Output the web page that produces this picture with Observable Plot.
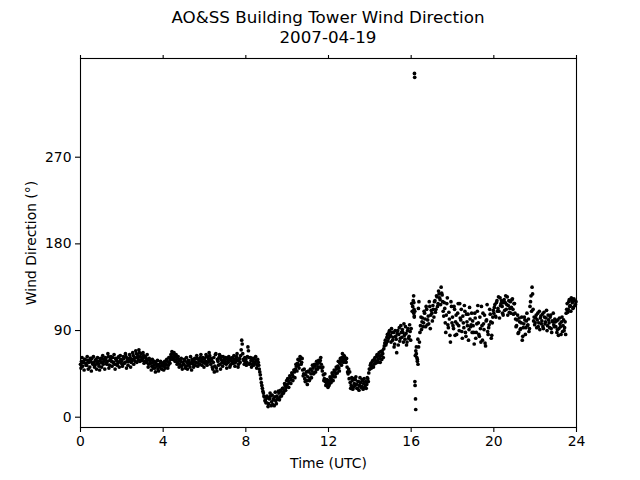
<!DOCTYPE html>
<html>
<head>
<meta charset="utf-8">
<script src="https://cdn.jsdelivr.net/npm/d3@7"></script>
<script src="https://cdn.jsdelivr.net/npm/@observablehq/plot@0.6"></script>
<style>
  html, body { margin: 0; padding: 0; background: #fff; }
  #wrap { position: relative; width: 640px; height: 480px; font-family: "DejaVu Sans", sans-serif; }
  #title { position: absolute; top: 7px; left: 0; width: 656px; text-align: center; font-size: 16.7px; line-height: 20px; color: #000; }
  #chart { position: absolute; top: 0; left: 0; }
</style>
</head>
<body>
<div id="wrap">
  <div id="chart"></div>
  <div id="title">AO&amp;SS Building Tower Wind Direction<br>2007-04-19</div>
</div>
<script>
// Hour of day at which each row of samples starts
const hourStarts = [0,1,2,3,4,5,6,7,8,9,10,11,12,13,14,15,16,17,18,19,20,21,22,23];
// Minute offsets of the samples within each hour (two interleaved sets)
const minuteOffsetsA = [0,3,6,9,12,15,18,21,24,27,30,33,36,39,42,45,48,51,54,57];
const minuteOffsetsB = [1.5,4.5,7.5,10.5,13.5,16.5,19.5,22.5,25.5,28.5,31.5,34.5,37.5,40.5,43.5,46.5,49.5,52.5,55.5,58.5];

// Wind direction (degrees), set A, one array per hour
const dir00 = [55,58,53,57,60,56,54,59,57,52,58,61,55,57,54,60,56,58,53,59];
const dir01 = [57,61,55,59,62,56,58,63,54,60,58,62,57,55,61,59,56,63,58,60];
const dir02 = [59,55,61,57,63,58,54,60,62,57,59,64,61,58,66,62,60,67,63,59];
const dir03 = [61,64,58,62,57,60,55,59,56,53,57,54,51,56,53,50,55,52,57,54];
const dir04 = [53,56,51,55,58,54,57,60,63,66,61,64,59,62,57,60,55,58,53,57];
const dir05 = [55,59,53,57,54,58,52,56,60,55,58,54,57,61,56,59,62,58,60,57];
const dir06 = [61,58,63,57,60,64,55,59,50,62,53,66,48,58,62,55,60,57,63,56];
const dir07 = [58,55,61,57,60,54,59,62,56,60,57,63,59,55,61,64,80,66,59,62];
const dir08 = [60,57,73,62,56,59,55,58,61,56,59,54,57,50,44,36,30,25,21,18];
const dir09 = [15,20,14,19,22,16,13,18,21,17,22,19,25,21,27,24,30,27,33,31];
const dir10 = [34,38,36,41,39,44,42,47,50,53,56,54,59,62,57,49,45,40,44,38];
const dir11 = [42,47,40,45,48,51,46,53,50,55,52,57,59,55,48,44,40,37,34,36];
const dir12 = [38,35,41,39,44,42,47,45,50,53,51,56,58,62,60,64,61,57,52,45];
const dir13 = [40,36,33,38,31,35,39,34,30,37,33,36,32,38,35,31,37,34,40,46];
const dir14 = [50,56,53,59,55,62,58,65,60,67,57,64,69,62,74,80,77,86,82,90];
const dir15 = [85,92,80,88,76,84,67,90,86,79,95,83,88,97,81,87,78,92,84,89];
const dir16 = [92,110,121,104,64,73,58,113,78,95,91,103,98,108,94,112,101,97,115,106];
const dir17 = [108,116,104,121,112,125,118,128,122,135,127,110,119,98,106,124,93,102,78,115];
const dir18 = [104,92,112,99,86,108,95,118,101,89,105,93,110,84,99,107,91,102,96,88];
const dir19 = [95,76,103,88,110,98,84,92,115,80,97,106,74,101,89,93,112,99,85,104];
const dir20 = [108,117,104,121,113,110,124,118,115,106,122,119,112,125,116,109,120,114,123,107];
const dir21 = [118,102,95,106,88,99,92,104,84,97,101,93,108,96,89,115,126,135,112,104];
const dir22 = [98,106,101,94,110,103,97,107,92,104,99,111,95,101,93,106,88,99,96,102];
const dir23 = [94,88,101,92,97,86,104,95,90,99,108,118,112,122,116,124,119,114,121,117];

// Wind direction (degrees), set B, one array per hour
const alt00 = [51,62,57,49,60,54,63,50,58,61,48,56,63,52,59,50,62,55,49,61];
const alt01 = [52,64,58,50,61,55,66,51,59,63,53,57,65,50,60,54,62,52,64,56];
const alt02 = [53,63,56,66,51,61,58,65,52,60,67,55,62,69,57,64,70,58,66,61];
const alt03 = [67,56,63,59,65,52,61,57,49,60,51,58,47,55,59,48,53,58,50,56];
const alt04 = [49,58,54,60,51,62,56,65,68,60,67,58,65,55,63,52,59,61,50,55];
const alt05 = [60,51,62,50,59,55,63,49,58,52,61,57,64,53,60,55,65,54,62,52];
const alt06 = [56,65,54,62,67,58,61,52,57,47,65,51,60,54,65,50,63,53,59,61];
const alt07 = [62,51,58,63,52,61,56,57,64,53,61,66,52,60,57,70,76,60,55,57];
const alt08 = [54,63,69,55,62,52,61,54,57,63,51,60,54,47,40,33,27,22,17,15];
const alt09 = [22,11,20,25,12,23,19,12,26,14,19,27,18,28,22,30,25,35,28,38];
const alt10 = [40,31,43,35,46,38,49,41,55,48,60,51,63,55,61,43,50,37,47,34];
const alt11 = [48,38,50,41,54,45,55,47,58,50,59,52,62,51,52,38,45,33,39,31];
const alt12 = [33,42,36,46,38,49,42,52,46,58,48,61,54,66,57,63,58,61,47,50];
const alt13 = [47,30,41,29,40,33,42,30,37,28,41,31,39,29,40,33,30,41,37,50];
const alt14 = [54,51,58,52,60,56,63,57,64,61,68,60,66,71,77,75,83,79,88,84];
const alt15 = [78,88,83,73,90,81,87,75,93,82,88,91,78,85,94,75,90,82,96,80];
const alt16 = [118,115,108,110,69,62,81,120,88,104,99,94,110,102,115,96,105,120,92,111];
const alt17 = [100,112,120,109,126,115,131,124,117,129,120,105,113,88,118,96,109,85,120,98];
const alt18 = [95,115,85,106,97,118,90,103,112,82,98,116,88,107,95,80,114,94,108,100];
const alt19 = [88,108,82,97,116,86,104,78,95,108,91,77,100,117,86,96,107,82,98,111];
const alt20 = [114,105,119,110,125,103,116,121,108,119,111,126,117,106,121,113,108,122,112,118];
const alt21 = [108,94,101,87,103,91,98,80,93,104,86,100,95,102,92,120,110,128,100,96];
const alt22 = [103,93,108,98,91,105,100,94,109,97,103,90,106,98,104,92,100,108,94,99];
const alt23 = [100,91,85,103,94,99,89,101,93,86,112,109,120,115,110,121,113,123,116,120];

// Rapid swings around 16:10 UTC (extra samples)
const spikeHours = [16.12,16.13,16.14,16.15,16.16,16.17,16.18,16.19,16.21,16.22,16.25,16.30,16.33,16.36];
const spikeDirs  = [126,119,112,105,357,353,37,33,19,8,66,60,55,73];

const xTicks = [0,4,8,12,16,20,24];
const yTicks = [0,90,180,270];

const rowsA = [dir00,dir01,dir02,dir03,dir04,dir05,dir06,dir07,dir08,dir09,dir10,dir11,
               dir12,dir13,dir14,dir15,dir16,dir17,dir18,dir19,dir20,dir21,dir22,dir23];
const rowsB = [alt00,alt01,alt02,alt03,alt04,alt05,alt06,alt07,alt08,alt09,alt10,alt11,
               alt12,alt13,alt14,alt15,alt16,alt17,alt18,alt19,alt20,alt21,alt22,alt23];
const data = [];
hourStarts.forEach((h, i) => {
  rowsA[i].forEach((v, j) => data.push({t: h + minuteOffsetsA[j] / 60, d: v}));
  rowsB[i].forEach((v, j) => data.push({t: h + minuteOffsetsB[j] / 60, d: v}));
});
spikeHours.forEach((t, i) => data.push({t, d: spikeDirs[i]}));

const chart = Plot.plot({
  width: 640,
  height: 480,
  marginTop: 58,
  marginBottom: 53,
  marginLeft: 80,
  marginRight: 64,
  style: {fontFamily: "DejaVu Sans, sans-serif", fontSize: "13.9px", color: "#000", background: "#fff"},
  x: {domain: [0, 24], ticks: xTicks},
  y: {domain: [-10.7, 372.5], ticks: yTicks},
  marks: [
    Plot.dot(data, {x: "t", y: "d", r: 1.85, fill: "black", stroke: "none"}),
    Plot.frame({stroke: "black", strokeWidth: 1.1}),
    Plot.axisX({anchor: "bottom", ticks: xTicks, tickSize: 5, tickPadding: 4, strokeWidth: 1.1,
                label: "Time (UTC)", labelAnchor: "center", labelArrow: "none", labelOffset: 40}),
    Plot.axisX({anchor: "top", ticks: xTicks, tickSize: 4, tickFormat: () => "", label: null, strokeWidth: 1.1}),
    Plot.axisY({anchor: "left", ticks: yTicks, tickSize: 5, tickPadding: 4, strokeWidth: 1.1,
                label: "Wind Direction (°)", labelAnchor: "center", labelArrow: "none", labelOffset: 54})
  ]
});
document.getElementById("chart").appendChild(chart);
</script>
</body>
</html>
